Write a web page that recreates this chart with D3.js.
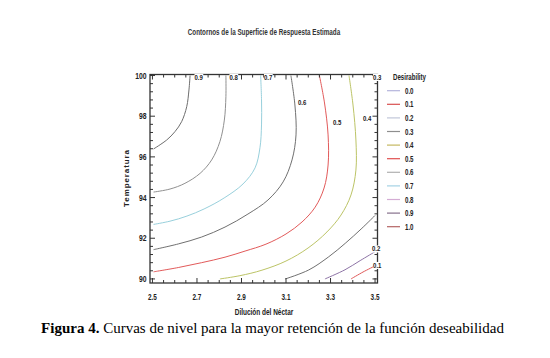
<!DOCTYPE html>
<html><head><meta charset="utf-8">
<script src="https://cdn.jsdelivr.net/npm/d3@7"></script>
<style>
html,body{margin:0;padding:0;background:#fff;}
svg{display:block;}
</style></head>
<body>
<svg id="chart" width="550" height="358"></svg>
<script>
// ---- data ----
const xTicks = [2.5, 2.7, 2.9, 3.1, 3.3, 3.5];
const yTicks = [90, 92, 94, 96, 98, 100];
const legendLevels = ["0.0","0.1","0.2","0.3","0.4","0.5","0.6","0.7","0.8","0.9","1.0"];
const legendColors = ["#b4b4dc","#d85050","#c0c6d8","#8e8e8e","#c4b860","#e05050","#b0b0b0","#a4d2e4","#d4acd4","#86708c","#b46464"];

// contour lines (Dilución, Temperatura)
const contour09 = [[2.669,100],[2.664,99.29],[2.654,98.47],[2.631,97.73],[2.601,97.24],[2.564,96.83],[2.505,96.39]];
const contour08 = [[2.830,100],[2.830,98.96],[2.823,97.81],[2.803,96.75],[2.766,95.85],[2.714,95.19],[2.646,94.70],[2.579,94.42],[2.505,94.27]];
const contour07 = [[2.986,100],[2.990,98.80],[2.990,97.57],[2.983,96.45],[2.961,95.46],[2.907,94.67],[2.822,93.98],[2.732,93.44],[2.655,93.09],[2.579,92.84],[2.505,92.68]];
const contour06 = [[3.122,100],[3.140,98.55],[3.145,97.08],[3.127,95.85],[3.087,94.77],[3.019,93.88],[2.929,93.19],[2.826,92.55],[2.721,92.06],[2.616,91.72],[2.505,91.44]];
const contour05 = [[3.250,100],[3.273,98.65],[3.289,97.08],[3.289,95.60],[3.271,94.47],[3.231,93.53],[3.172,92.80],[3.100,92.21],[3.010,91.71],[2.916,91.37],[2.826,91.07],[2.721,90.80],[2.616,90.56],[2.505,90.35]];
const contour04 = [[3.383,100],[3.401,98.55],[3.414,96.83],[3.414,95.35],[3.392,94.13],[3.347,93.14],[3.284,92.31],[3.199,91.52],[3.100,90.88],[2.992,90.43],[2.893,90.16],[2.803,90.0]];
const contour03 = [[3.500,93.12],[3.441,92.49],[3.366,91.75],[3.292,91.09],[3.202,90.44],[3.097,90.0]];
const contour02 = [[3.500,91.34],[3.433,90.90],[3.365,90.45],[3.275,90.0]];
const contour01 = [[3.500,90.64],[3.446,90.34],[3.392,90.0]];
const contourLines = [
  {level:"0.9", pts:contour09, color:"#6e6e6e"},
  {level:"0.8", pts:contour08, color:"#909090"},
  {level:"0.7", pts:contour07, color:"#98d0dc"},
  {level:"0.6", pts:contour06, color:"#707070"},
  {level:"0.5", pts:contour05, color:"#e25a5a"},
  {level:"0.4", pts:contour04, color:"#bcc466"},
  {level:"0.3", pts:contour03, color:"#707070"},
  {level:"0.2", pts:contour02, color:"#8e74a6"},
  {level:"0.1", pts:contour01, color:"#e05a5a"}
];
const contourLabels = [["0.9",2.689,99.78],["0.8",2.846,99.78],["0.7",3.001,99.78],["0.3",3.491,99.78],
  ["0.6",3.154,98.55],["0.5",3.311,97.57],["0.4",3.446,97.76],["0.2",3.486,91.35],["0.1",3.491,90.54]];

// ---- drawing ----
const svg = d3.select("#chart");
const sans = "'Liberation Sans',Arial,sans-serif";
const L = 150, R = 377.5, T = 74.5, B = 283;
const x = d3.scaleLinear().domain([2.489, 3.511]).range([L, R]);
const y = d3.scaleLinear().domain([89.8, 100.05]).range([B, T]);

function condense(sel, f){
  sel.each(function(){
    const w = this.getComputedTextLength();
    d3.select(this).attr("textLength", w*f).attr("lengthAdjust","spacingAndGlyphs");
  });
  return sel;
}

svg.append("rect").attr("width",550).attr("height",358).attr("fill","#fff");

// title
condense(svg.append("text").attr("x",264).attr("y",35).attr("text-anchor","middle")
  .attr("font-family",sans).attr("font-weight","bold").attr("font-size",8.5)
  .attr("fill","#333").text("Contornos de la Superficie de Respuesta Estimada"), 0.74);

// contours
const line = d3.line().x(d=>x(d[0])).y(d=>y(d[1])).curve(d3.curveCatmullRom.alpha(0.5));
svg.append("g").selectAll("path").data(contourLines).join("path")
  .attr("d", d=>line(d.pts)).attr("fill","none").attr("stroke",d=>d.color).attr("stroke-width",1);

// frame with inward ticks
const axG = svg.append("g").attr("stroke","#333").attr("stroke-width",1);
axG.append("rect").attr("x",L).attr("y",T).attr("width",R-L).attr("height",B-T).attr("fill","none").attr("stroke-width",1.3);
const xMinor = d3.range(2.5, 3.5001, 0.05);
xMinor.forEach(v=>{
  const major = Math.abs(Math.round(v*10)/10 - v) < 1e-6 && Math.round(v*10)%2===1;
  const len = major ? 5 : 3;
  axG.append("line").attr("x1",x(v)).attr("x2",x(v)).attr("y1",B).attr("y2",B-len);
  axG.append("line").attr("x1",x(v)).attr("x2",x(v)).attr("y1",T).attr("y2",T+len);
});
const yMinor = d3.range(90, 100.001, 0.4);
yMinor.forEach(v=>{
  const major = Math.abs(v/2 - Math.round(v/2)) < 1e-6;
  const len = major ? 5 : 3;
  axG.append("line").attr("x1",L).attr("x2",L+len).attr("y1",y(v)).attr("y2",y(v));
  axG.append("line").attr("x1",R).attr("x2",R-len).attr("y1",y(v)).attr("y2",y(v));
});

// tick labels
condense(svg.append("g").selectAll("text").data(xTicks).join("text")
  .attr("x",d=>x(d)).attr("y",299.5).attr("text-anchor","middle")
  .attr("font-family",sans).attr("font-weight","bold").attr("font-size",8.5).attr("fill","#222")
  .text(d=>d.toFixed(1)), 0.75);
condense(svg.append("g").selectAll("text").data(yTicks).join("text")
  .attr("x",146.5).attr("y",d=>y(d)+3).attr("text-anchor","end")
  .attr("font-family",sans).attr("font-weight","bold").attr("font-size",8.5).attr("fill","#222")
  .text(d=>d), 0.8);

// axis titles
condense(svg.append("text").attr("x",264).attr("y",315).attr("text-anchor","middle")
  .attr("font-family",sans).attr("font-weight","bold").attr("font-size",8.5).attr("fill","#222")
  .text("Dilución del Néctar"), 0.76);
svg.append("text").attr("transform","translate(129,178) rotate(-90)").attr("text-anchor","middle")
  .attr("font-family",sans).attr("font-weight","bold").attr("font-size",8)
  .attr("letter-spacing",0.9).attr("fill","#222").text("Temperatura");

// contour labels
const lblG = svg.append("g");
contourLabels.forEach(d=>{
  const t = lblG.append("text").attr("x",x(d[1])).attr("y",y(d[2]))
    .attr("font-family",sans).attr("font-weight","bold").attr("font-size",8).attr("fill","#222").text(d[0]);
  condense(t, 0.75);
  const bb = t.node().getBBox();
  lblG.insert("rect","text").attr("x",bb.x).attr("y",bb.y+1).attr("width",bb.width).attr("height",bb.height-2).attr("fill","#fff");
});

// legend
condense(svg.append("text").attr("x",393).attr("y",80)
  .attr("font-family",sans).attr("font-weight","bold").attr("font-size",8.5).attr("fill","#222").text("Desirability"), 0.72);
const lg = svg.append("g").selectAll("g").data(legendLevels).join("g")
  .attr("transform",(d,i)=>`translate(0,${90.7 + i*13.6})`);
lg.append("line").attr("x1",387).attr("x2",400).attr("stroke",(d,i)=>legendColors[i]).attr("stroke-width",1.2);
condense(lg.append("text").attr("x",405).attr("y",3)
  .attr("font-family",sans).attr("font-weight","bold").attr("font-size",8.5).attr("fill","#222").text(d=>d), 0.72);

// caption
const cap = svg.append("text").attr("x",272.5).attr("y",333).attr("text-anchor","middle")
  .attr("font-family","'Liberation Serif','Times New Roman',serif").attr("font-size",15).attr("fill","#000");
cap.append("tspan").attr("font-weight","bold").text("Figura 4.");
cap.append("tspan").text(" Curvas de nivel para la mayor retención de la función deseabilidad");
</script>
</body></html>
